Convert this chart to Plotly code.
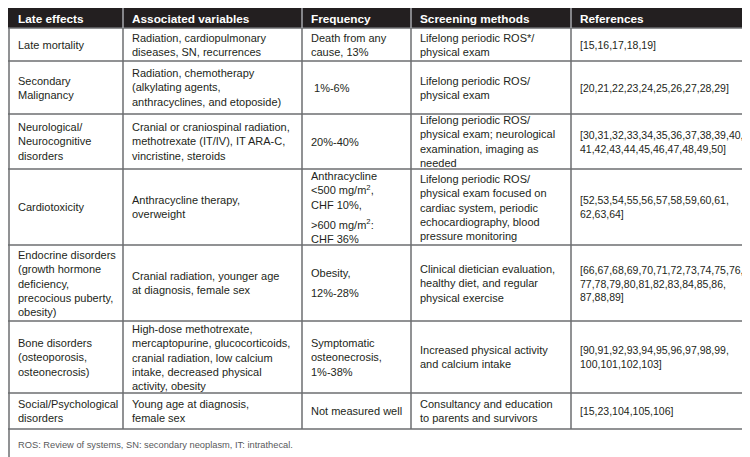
import plotly.graph_objects as go

headers = ["Late effects", "Associated variables", "Frequency", "Screening methods", "References"]

late_effects = [
    "Late mortality",
    "Secondary<br>Malignancy",
    "Neurological/<br>Neurocognitive<br>disorders",
    "Cardiotoxicity",
    "Endocrine disorders<br>(growth hormone<br>deficiency,<br>precocious puberty,<br>obesity)",
    "Bone disorders<br>(osteoporosis,<br>osteonecrosis)",
    "Social/Psychological<br>disorders",
]
associated = [
    "Radiation, cardiopulmonary<br>diseases, SN, recurrences",
    "Radiation, chemotherapy<br>(alkylating agents,<br>anthracyclines, and etoposide)",
    "Cranial or craniospinal radiation,<br>methotrexate (IT/IV), IT ARA-C,<br>vincristine, steroids",
    "Anthracycline therapy,<br>overweight",
    "Cranial radiation, younger age<br>at diagnosis, female sex",
    "High-dose methotrexate,<br>mercaptopurine, glucocorticoids,<br>cranial radiation, low calcium<br>intake, decreased physical<br>activity, obesity",
    "Young age at diagnosis,<br>female sex",
]
frequency = [
    ["Death from any<br>cause, 13%"],
    ["&nbsp;1%-6%"],
    ["20%-40%"],
    ["Anthracycline<br>&lt;500 mg/m<sup>2</sup>,<br>CHF 10%,", "&gt;600 mg/m<sup>2</sup>:<br>CHF 36%"],
    ["Obesity,", "12%-28%"],
    ["Symptomatic<br>osteonecrosis,<br>1%-38%"],
    ["Not measured well"],
]
screening = [
    "Lifelong periodic ROS*/<br>physical exam",
    "Lifelong periodic ROS/<br>physical exam",
    "Lifelong periodic ROS/<br>physical exam; neurological<br>examination, imaging as<br>needed",
    "Lifelong periodic ROS/<br>physical exam focused on<br>cardiac system, periodic<br>echocardiography, blood<br>pressure monitoring",
    "Clinical dietician evaluation,<br>healthy diet, and regular<br>physical exercise",
    "Increased physical activity<br>and calcium intake",
    "Consultancy and education<br>to parents and survivors",
]
references = [
    "[15,16,17,18,19]",
    "[20,21,22,23,24,25,26,27,28,29]",
    "[30,31,32,33,34,35,36,37,38,39,40,<br>41,42,43,44,45,46,47,48,49,50]",
    "[52,53,54,55,56,57,58,59,60,61,<br>62,63,64]",
    "[66,67,68,69,70,71,72,73,74,75,76,<br>77,78,79,80,81,82,83,84,85,86,<br>87,88,89]",
    "[90,91,92,93,94,95,96,97,98,99,<br>100,101,102,103]",
    "[15,23,104,105,106]",
]
footnote = "ROS: Review of systems, SN: secondary neoplasm, IT: intrathecal."

# layout geometry (pixels)
W, H = 750, 457
col_x = [1, 115, 294, 403, 563, 748]
row_y = [0, 20, 53, 106, 161, 237, 313, 385, 421, 452]
pad = 7
FONT = "Liberation Sans"
FS = 11
FS_REF = 10.5
TXT = "#231f20"
LINE = "#6d6e71"
HEAD_BG = "#231f20"

fig = go.Figure()
shapes = []
ann = []

# header background
shapes.append(dict(type="rect", x0=0, x1=W, y0=row_y[0], y1=row_y[1],
                   fillcolor=HEAD_BG, line=dict(width=0), layer="below"))

columns = [late_effects, associated, None, screening, references]

for c, h in enumerate(headers):
    ann.append(dict(x=col_x[c] + pad, y=(row_y[0] + row_y[1]) / 2 + 0.5, text="<b>" + h + "</b>",
                    font=dict(family=FONT, size=11.8, color="white")))

for r in range(len(late_effects)):
    y0, y1 = row_y[r + 1], row_y[r + 2]
    yc = (y0 + y1) / 2
    for c in range(5):
        if c == 2:
            parts = frequency[r]
            if len(parts) == 1:
                ann.append(dict(x=col_x[c] + pad, y=yc, text=parts[0],
                                font=dict(family=FONT, size=FS, color=TXT)))
            else:
                n1 = parts[0].count("<br>") + 1
                n2 = parts[1].count("<br>") + 1
                lh, gap = 14.3, 5
                total = (n1 + n2) * lh + gap
                top = yc - total / 2
                ann.append(dict(x=col_x[c] + pad, y=top + n1 * lh / 2, text=parts[0],
                                font=dict(family=FONT, size=FS, color=TXT)))
                ann.append(dict(x=col_x[c] + pad, y=top + n1 * lh + gap + n2 * lh / 2, text=parts[1],
                                font=dict(family=FONT, size=FS, color=TXT)))
        else:
            ann.append(dict(x=col_x[c] + pad, y=yc, text=columns[c][r],
                            font=dict(family=FONT, size=FS_REF if c == 4 else FS, color=TXT)))

ann.append(dict(x=col_x[0] + pad, y=(row_y[-2] + row_y[-1]) / 2, text=footnote,
                font=dict(family=FONT, size=9.3, color="#58595b")))

for a in ann:
    a.update(xref="x", yref="y", showarrow=False, xanchor="left", yanchor="middle", align="left")

# horizontal lines
for y in row_y[1:]:
    shapes.append(dict(type="line", x0=0, x1=W, y0=y, y1=y, line=dict(color=LINE, width=1.5)))
# vertical lines in body
for x in col_x[1:-1]:
    shapes.append(dict(type="line", x0=x, x1=x, y0=row_y[1], y1=row_y[-2], line=dict(color=LINE, width=1.5)))
    shapes.append(dict(type="line", x0=x, x1=x, y0=row_y[0], y1=row_y[1], line=dict(color="#a7a9ac", width=1.5)))
# outer side borders
for x in (col_x[0], col_x[-1]):
    shapes.append(dict(type="line", x0=x, x1=x, y0=row_y[1], y1=row_y[-1], line=dict(color=LINE, width=1.5)))

fig.update_layout(
    width=W, height=H, margin=dict(l=0, r=0, t=0, b=0),
    paper_bgcolor="white", plot_bgcolor="white",
    xaxis=dict(range=[0, W], visible=False, fixedrange=True),
    yaxis=dict(range=[H, 0], visible=False, fixedrange=True),
    shapes=shapes, annotations=ann, showlegend=False,
)
fig.write_html("out.html")
